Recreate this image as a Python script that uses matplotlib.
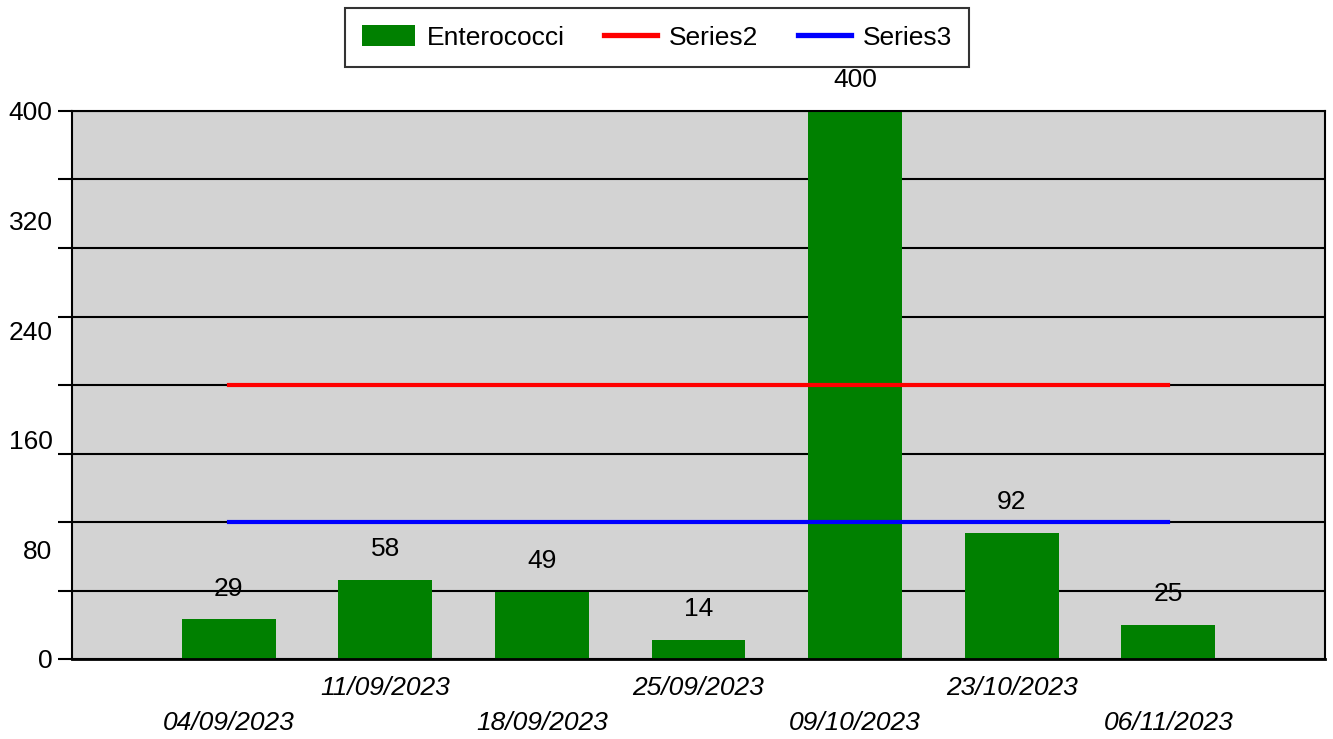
import matplotlib.pyplot as plt
import numpy as np

plt.rcParams['font.family'] = ['Liberation Sans', 'DejaVu Sans']

dates = ['04/09/2023', '11/09/2023', '18/09/2023', '25/09/2023',
         '09/10/2023', '23/10/2023', '06/11/2023']
enterococci = [29, 58, 49, 14, 400, 92, 25]
series2 = [200, 200, 200, 200, 200, 200, 200]
series3 = [100, 100, 100, 100, 100, 100, 100]
grid_ticks = [0, 50, 100, 150, 200, 250, 300, 350, 400]
label_ticks = [0, 80, 160, 240, 320, 400]

FS = 19
W, H = 1333, 739
fig = plt.figure(figsize=(W / 100, H / 100), dpi=100)
ax = fig.add_axes([72 / W, 1 - 659 / H, (1325 - 72) / W, (659 - 111) / H])
ax.set_facecolor('#d3d3d3')

x = np.arange(len(dates))
b = ax.bar(x, enterococci, width=0.6, color='#008000', zorder=2, label='Enterococci')
l2, = ax.plot(x, series2, color='red', lw=3, zorder=3, label='Series2')
l3, = ax.plot(x, series3, color='blue', lw=3, zorder=3, label='Series3')

for xi, v in zip(x, enterococci):
    ax.annotate(str(v), (xi, v), xytext=(0, 22), textcoords='offset points',
                ha='center', va='center', fontsize=FS, zorder=4)

ax.set_xlim(-1, 7)
ax.set_ylim(0, 400)

# gridlines every 50, labels every 80
ax.set_yticks(grid_ticks)
ax.set_yticklabels([])
ax.yaxis.remove_overlapping_locs = False
ax.set_yticks(label_ticks, minor=True)
ax.set_yticklabels([str(t) for t in label_ticks], minor=True, fontsize=FS)
ax.tick_params(axis='y', which='major', length=10, width=1.5, color='black')
ax.tick_params(axis='y', which='minor', length=0, pad=14)
ax.yaxis.grid(True, which='major', color='black', lw=1.5, zorder=1)
ax.set_axisbelow(True)

ax.set_xticks(x)
ax.set_xticklabels([])
ax.tick_params(axis='x', length=0)
for i, d in enumerate(dates):
    y_off = -29 if i % 2 else -64
    ax.annotate(d, (i, 0), xytext=(0, y_off * 0.72), textcoords='offset points',
                ha='center', va='center', fontsize=FS, style='italic',
                annotation_clip=False)

for s in ax.spines.values():
    s.set_color('black')
    s.set_linewidth(1.5)
ax.spines['bottom'].set_linewidth(2)

leg = fig.legend([b, l2, l3], ['Enterococci', 'Series2', 'Series3'],
                 loc='center', bbox_to_anchor=(657 / W, 1 - 37.5 / H), ncol=3,
                 fontsize=FS, frameon=True, fancybox=False, edgecolor='black',
                 handlelength=2.0, handleheight=0.83, columnspacing=1.5,
                 borderpad=0.65, handletextpad=0.45, borderaxespad=0)
leg.get_frame().set_linewidth(1.5)
for h in leg.get_lines():
    h.set_linewidth(3.8)

fig.savefig('out.png', dpi=100)
